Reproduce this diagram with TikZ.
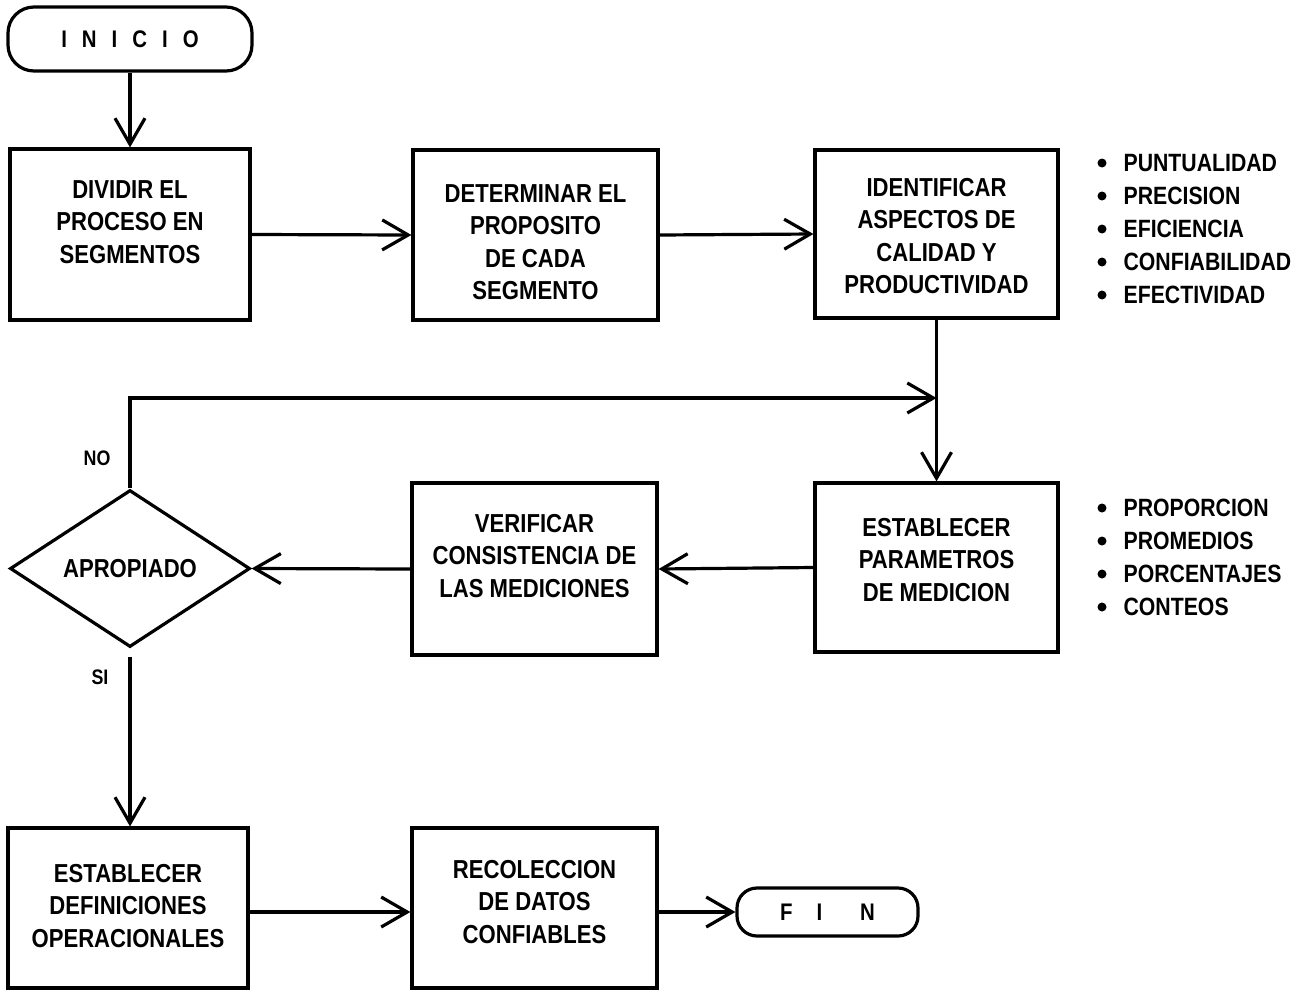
\documentclass[tikz,border=0pt]{standalone}
\usepackage{fontspec}
\newfontfamily\flowfont{Liberation Sans}[FakeStretch=0.85]
\usetikzlibrary{shapes.geometric,arrows.meta}
\begin{document}
\begin{tikzpicture}[x=1pt,y=-1pt,
  line width=3.2pt,
  stepbox/.style={draw, rectangle, inner sep=0pt},
  boxtext/.style={align=center, inner sep=0pt,
    font=\flowfont\bfseries\fontsize{26}{32.5}\selectfont},
  terminal/.style={draw, rectangle, inner sep=0pt,
    font=\flowfont\bfseries\fontsize{24}{28}\selectfont},
  decision/.style={draw, diamond, aspect=1.5, inner sep=0pt,
    minimum width=240pt, minimum height=157pt,
    font=\flowfont\bfseries\fontsize{26}{30}\selectfont},
  listitem/.style={anchor=west, inner sep=0pt,
    font=\flowfont\bfseries\fontsize{25}{30}\selectfont},
  dot/.style={circle, fill, inner sep=0pt, minimum size=9pt},
  answer/.style={inner sep=0pt, font=\flowfont\bfseries\fontsize{21}{24}\selectfont},
  flow/.style={-{Straight Barb[length=26pt,width=30pt,line width=3.2pt]}}
]
% page
\fill[white] (0,0) rectangle (1311,991);
\useasboundingbox (0,0) rectangle (1311,991);

% start and end
\node[terminal, rounded corners=26pt, minimum width=244pt, minimum height=64pt]
  (inicio) at (130,39) {I\hspace{15pt}N\hspace{15pt}I\hspace{15pt}C\hspace{15pt}I\hspace{15pt}O};
\node[terminal, rounded corners=20pt, minimum width=181pt, minimum height=48pt]
  (fin) at (827.5,912) {F\hspace{24pt}I\hspace{38pt}N};

% process boxes
\node[stepbox, minimum width=240pt, minimum height=171pt] (b1) at (130,234.5) {};
\node[stepbox, minimum width=245pt, minimum height=170pt] (b2) at (535.5,235) {};
\node[stepbox, minimum width=243pt, minimum height=168pt] (b3) at (936.5,234) {};
\node[stepbox, minimum width=243pt, minimum height=169pt] (b4) at (936.5,567.5) {};
\node[stepbox, minimum width=245pt, minimum height=172pt] (b5) at (534.5,569) {};
\node[stepbox, minimum width=240pt, minimum height=160pt] (b6) at (128,908) {};
\node[stepbox, minimum width=245pt, minimum height=160pt] (b7) at (534.5,908) {};

% box captions
\node[boxtext] (t1) at (130,222) {DIVIDIR EL\\PROCESO EN\\SEGMENTOS};
\node[boxtext] (t2) at (535.5,242) {DETERMINAR EL\\PROPOSITO\\DE CADA\\SEGMENTO};
\node[boxtext] (t3) at (936.5,236) {IDENTIFICAR\\ASPECTOS DE\\CALIDAD Y\\PRODUCTIVIDAD};
\node[boxtext] (t4) at (936.5,560) {ESTABLECER\\PARAMETROS\\DE MEDICION};
\node[boxtext] (t5) at (534.5,556) {VERIFICAR\\CONSISTENCIA DE\\LAS MEDICIONES};
\node[boxtext] (t6) at (128,906) {ESTABLECER\\DEFINICIONES\\OPERACIONALES};
\node[boxtext] (t7) at (534.5,902) {RECOLECCION\\DE DATOS\\CONFIABLES};

% decision
\node[decision] (dec) at (130,568.5) {APROPIADO};
\node[answer] (no) at (97,458) {NO};
\node[answer] (si) at (100,677) {SI};

% quality aspects
\foreach \name/\y/\txt in {q1/163/PUNTUALIDAD, q2/196/PRECISION, q3/229/EFICIENCIA,
                           q4/262/CONFIABILIDAD, q5/295/EFECTIVIDAD}{
  \node[dot] (\name d) at (1102,\y) {};
  \node[listitem] (\name) at (1122,\y) {\txt};
}
% measurement parameters
\foreach \name/\y/\txt in {m1/508/PROPORCION, m2/541/PROMEDIOS, m3/574/PORCENTAJES,
                           m4/607/CONTEOS}{
  \node[dot] (\name d) at (1102,\y) {};
  \node[listitem] (\name) at (1122,\y) {\txt};
}

% connectors
\coordinate (join) at (936.5,398);
\draw[flow] (inicio.south) -- (b1.north);
\draw[flow] (b1.east) -- (b2.west);
\draw[flow] (b2.east) -- (b3.west);
\draw (b3.south) -- (join);
\draw[flow] (join) -- (b4.north);
\draw[flow] (b4.west) -- (b5.east);
\draw[flow] (b5.west) -- (dec.east);
\draw[flow] (dec.north) |- (join);
\draw[flow] ([yshift=-8pt]dec.south) -- (dec.south |- b6.north);
\draw[flow] (b6.east |- fin.west) -- (b7.west |- fin.west);
\draw[flow] (b7.east |- fin.west) -- (fin.west);
\end{tikzpicture}
\end{document}
